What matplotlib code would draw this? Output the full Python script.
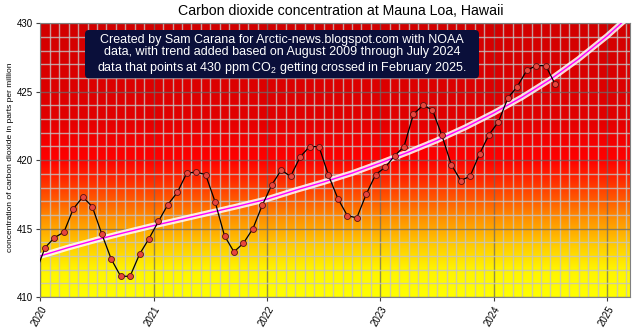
import matplotlib
matplotlib.use("Agg")
import matplotlib.pyplot as plt
import numpy as np
from matplotlib.colors import LinearSegmentedColormap
from matplotlib.patches import FancyBboxPatch
from matplotlib.ticker import MultipleLocator

plt.rcParams["font.family"] = ["Liberation Sans", "DejaVu Sans"]
plt.rcParams["mathtext.fontset"] = "custom"
plt.rcParams["mathtext.rm"] = "Liberation Sans"

# NOAA Mauna Loa monthly means, Dec 2019 .. Jul 2024 (ppm)
start_year = 2019
start_month = 12
co2_monthly = [
    411.76,
    413.61, 414.34, 414.74, 416.45, 417.31, 416.60,
    414.62, 412.78, 411.52, 411.51, 413.12, 414.26,
    415.52, 416.75, 417.64, 419.05, 419.13, 418.94,
    416.96, 414.47, 413.30, 413.93, 414.99, 416.71,
    418.19, 419.28, 418.81, 420.23, 420.99, 420.99,
    418.90, 417.19, 415.95, 415.78, 417.51, 418.95,
    419.47, 420.31, 420.99, 423.36, 424.00, 423.68,
    421.83, 419.68, 418.51, 418.82, 420.46, 421.86,
    422.80, 424.55, 425.38, 426.57, 426.90, 426.91,
    425.55,
]

# trend curve, sampled every quarter year from 2020.0
trend_years = [2020.0, 2020.25, 2020.5, 2020.75, 2021.0, 2021.25, 2021.5,
               2021.75, 2022.0, 2022.25, 2022.5, 2022.75, 2023.0, 2023.25,
               2023.5, 2023.75, 2024.0, 2024.25, 2024.5, 2024.75, 2025.0,
               2025.25]
trend_ppm = [413.00, 413.62, 414.19, 414.72, 415.22, 415.69, 416.17,
             416.65, 417.15, 417.80, 418.40, 419.05, 419.80, 420.60,
             421.45, 422.40, 423.45, 424.60, 425.90, 427.40, 429.07,
             430.93]

year_ticks = [2020, 2021, 2022, 2023, 2024, 2025]
ppm_ticks = [410, 415, 420, 425, 430]

# month index -> mid-month decimal year
months = np.arange(len(co2_monthly)) + (start_month - 1)
dates = start_year + (months + 0.5) / 12.0

fig = plt.figure(figsize=(6.4, 3.28), dpi=100)
ax = fig.add_axes([0.063, 0.0945, 0.921, 0.8345])
x0, x1 = 2020.0, 2025.2
y0, y1 = 410, 430
ax.set_xlim(x0, x1)
ax.set_ylim(y0, y1)

# yellow -> orange -> red background
stops = [
    (410.0, "#ffff00"), (412.0, "#fff400"), (413.7, "#ffcc00"),
    (415.6, "#ff9400"), (416.8, "#ff6400"), (418.8, "#ff2200"),
    (420.0, "#ff0000"), (421.5, "#f40000"), (423.0, "#e20000"),
    (430.0, "#d20000"),
]
cmap = LinearSegmentedColormap.from_list(
    "heat", [((v - y0) / (y1 - y0), c) for v, c in stops])
grad = np.linspace(0, 1, 400).reshape(-1, 1)
ax.imshow(grad, cmap=cmap, extent=[x0, x1, y0, y1], origin="lower",
          aspect="auto", zorder=0, interpolation="bilinear")

ax.xaxis.set_major_locator(MultipleLocator(1))
ax.xaxis.set_minor_locator(MultipleLocator(1 / 12))
ax.yaxis.set_major_locator(MultipleLocator(5))
ax.yaxis.set_minor_locator(MultipleLocator(1))
ax.grid(which="minor", color="#c4c4c4", alpha=0.8, lw=1.0, zorder=1)
ax.grid(which="major", color="#6a6a6a", alpha=0.75, lw=1.0, zorder=1)
ax.set_axisbelow(True)

ax.plot(trend_years, trend_ppm, color="white", lw=4.2, alpha=0.85,
        solid_capstyle="butt", zorder=3)
ax.plot(trend_years, trend_ppm, color="#ff00ff", lw=1.0, zorder=4)

ax.plot(dates, co2_monthly, color="black", lw=0.9, marker="o", ms=4.3,
        mfc="#e8453c", mec="#5a1010", mew=0.6, zorder=5)

ax.set_xticks(year_ticks)
ax.set_xticklabels([str(y) for y in year_ticks], rotation=60, ha="right",
                   va="top", rotation_mode="anchor", fontsize=7)
ax.set_yticks(ppm_ticks)
ax.set_yticklabels([str(v) for v in ppm_ticks], fontsize=7)
ax.tick_params(which="major", length=3, width=0.8, color="#404040", pad=2)
ax.tick_params(which="minor", length=0)
for s in ax.spines.values():
    s.set_color("#808080")
    s.set_linewidth(0.8)

ax.set_ylabel("concentration of carbon dioxide in parts per million",
              fontsize=6.0)
ax.yaxis.set_label_coords(-0.045, 0.51)
fig.text(0.533, 0.966, "Carbon dioxide concentration at Mauna Loa, Hawaii",
         ha="center", va="center", fontsize=10.2)

box = FancyBboxPatch((85, 328 - 78.3), 394, 48.3,
                     boxstyle="round,pad=0,rounding_size=4",
                     transform=None, facecolor="#0a0f3a",
                     edgecolor="none", zorder=6)
fig.patches.append(box)
fig.text(282 / 640, 1 - 54.5 / 328,
         "Created by Sam Carana for Arctic-news.blogspot.com with NOAA\n"
         "data, with trend added based on August 2009 through July 2024\n"
         "data that points at 430 ppm CO$_\\mathregular{2}$ getting crossed in February 2025.",
         ha="center", va="center", color="white", fontsize=9,
         linespacing=1.1, zorder=7)

fig.savefig("out.png", dpi=100)
